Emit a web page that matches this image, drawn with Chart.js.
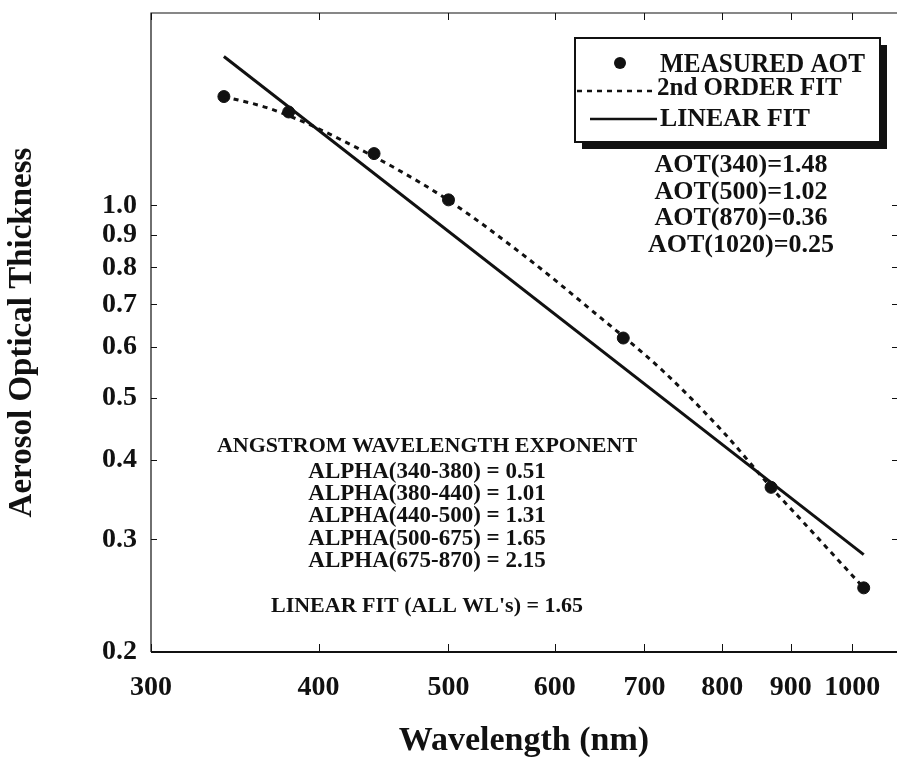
<!DOCTYPE html>
<html>
<head>
<meta charset="utf-8">
<title>Aerosol Optical Thickness</title>
<script src="https://cdn.jsdelivr.net/npm/chart.js@4.4.1/dist/chart.umd.min.js"></script>
<style>
    html, body { margin: 0; padding: 0; background: #fff; overflow: hidden; }
    #wrap { position: relative; width: 897px; height: 762px; }
    #wrap canvas { display: block; }
</style>
</head>
<body>
<div id="wrap"><canvas id="chart-aot"></canvas></div>
<script>
// Axis ticks (log-log plot)
const xTickValues = [300, 400, 500, 600, 700, 800, 900, 1000];
const yTickValues = [0.2, 0.3, 0.4, 0.5, 0.6, 0.7, 0.8, 0.9, 1.0];

// Measured AOT at the sun photometer channels
const measuredWl = [340, 380, 440, 500, 675, 870, 1020];
const measuredAot = [1.48, 1.40, 1.205, 1.02, 0.62, 0.362, 0.252];

// 2nd order fit
const fit2Wl = [340, 366, 391, 415, 455, 500, 572, 634, 723, 802, 870, 925, 1020];
const fit2Aot = [1.48, 1.422, 1.347, 1.269, 1.147, 1.018, 0.828, 0.695, 0.550, 0.441, 0.362, 0.315, 0.252];

// Linear fit (straight line in log-log space)
const linearWl = [340, 1020];
const linearAot = [1.71, 0.284];

const legendLabels = ['MEASURED AOT', '2nd ORDER FIT', 'LINEAR FIT'];
const aotLines = ['AOT(340)=1.48', 'AOT(500)=1.02', 'AOT(870)=0.36', 'AOT(1020)=0.25'];
const alphaTitle = 'ANGSTROM WAVELENGTH EXPONENT';
const alphaLines = [
    'ALPHA(340-380) = 0.51',
    'ALPHA(380-440) = 1.01',
    'ALPHA(440-500) = 1.31',
    'ALPHA(500-675) = 1.65',
    'ALPHA(675-870) = 2.15'
];
const linearFitNote = "LINEAR FIT (ALL WL's) = 1.65";

const INK = '#111';
const SERIF = '"Liberation Serif", "Times New Roman", serif';

function toPoints(xs, ys) {
    return xs.map((x, i) => ({ x: x, y: ys[i] }));
}

function drawText(ctx, text, x, y, size, align, maxWidth) {
    ctx.font = 'bold ' + size + 'px ' + SERIF;
    ctx.textAlign = align;
    ctx.textBaseline = 'alphabetic';
    if (maxWidth) ctx.fillText(text, x, y, maxWidth);
    else ctx.fillText(text, x, y);
}

// Frame with inward ticks, legend box and text notes
const framePlugin = {
    id: 'frame',
    afterDraw(chart) {
        const { ctx, chartArea: a, scales: { x, y } } = chart;
        const ds = chart.data.datasets;
        ctx.save();
        ctx.strokeStyle = INK;
        ctx.fillStyle = INK;

        // axes box (right side falls off the page)
        ctx.lineWidth = 1.2;
        ctx.beginPath();
        ctx.moveTo(a.right, a.top);
        ctx.lineTo(a.left, a.top);
        ctx.lineTo(a.left, a.bottom);
        ctx.stroke();
        ctx.lineWidth = 2;
        ctx.beginPath();
        ctx.moveTo(a.left, a.bottom);
        ctx.lineTo(a.right, a.bottom);
        ctx.stroke();

        ctx.lineWidth = 1;
        ctx.beginPath();
        for (const v of xTickValues) {
            const px = Math.round(x.getPixelForValue(v)) + 0.5;
            ctx.moveTo(px, a.bottom);
            ctx.lineTo(px, a.bottom - 8);
            ctx.moveTo(px, a.top);
            ctx.lineTo(px, a.top + 7);
        }
        for (const v of yTickValues) {
            const py = Math.round(y.getPixelForValue(v)) + 0.5;
            ctx.moveTo(a.left, py);
            ctx.lineTo(a.left + 6, py);
            ctx.moveTo(a.right, py);
            ctx.lineTo(a.right - 5, py);
        }
        ctx.stroke();

        // legend box with drop shadow
        const bx = 575, by = 38, bw = 305, bh = 104;
        ctx.fillRect(bx + 7, by + 7, bw, bh);
        ctx.fillStyle = '#fff';
        ctx.fillRect(bx, by, bw, bh);
        ctx.lineWidth = 2;
        ctx.strokeRect(bx, by, bw, bh);
        ctx.fillStyle = INK;

        ctx.beginPath();
        ctx.arc(620, 63, ds[2].pointRadius, 0, Math.PI * 2);
        ctx.fill();
        drawText(ctx, legendLabels[0], 660, 72, 27, 'left', 205);

        ctx.lineWidth = 2.5;
        ctx.setLineDash(ds[0].borderDash);
        ctx.beginPath();
        ctx.moveTo(577, 91);
        ctx.lineTo(655, 91);
        ctx.stroke();
        ctx.setLineDash([]);
        drawText(ctx, legendLabels[1], 657, 95, 25, 'left', 190);

        ctx.lineWidth = 2.5;
        ctx.beginPath();
        ctx.moveTo(590, 119);
        ctx.lineTo(657, 119);
        ctx.stroke();
        drawText(ctx, legendLabels[2], 660, 126, 26, 'left', 150);

        // AOT values
        aotLines.forEach((t, i) => drawText(ctx, t, 741, 172 + i * 26.7, 26, 'center'));

        // Angstrom exponents
        drawText(ctx, alphaTitle, 427, 452, 22, 'center', 425);
        alphaLines.forEach((t, i) => drawText(ctx, t, 427, 478 + i * 22.2, 23, 'center'));
        drawText(ctx, linearFitNote, 427, 612, 22, 'center', 315);

        ctx.restore();
    }
};

new Chart(document.getElementById('chart-aot').getContext('2d'), {
    type: 'scatter',
    data: {
        datasets: [
            {
                label: legendLabels[1],
                type: 'line',
                data: toPoints(fit2Wl, fit2Aot),
                borderColor: INK,
                borderWidth: 3,
                borderDash: [5, 5],
                pointRadius: 0,
                cubicInterpolationMode: 'monotone',
                fill: false
            },
            {
                label: legendLabels[2],
                type: 'line',
                data: toPoints(linearWl, linearAot),
                borderColor: INK,
                borderWidth: 3,
                pointRadius: 0,
                fill: false
            },
            {
                label: legendLabels[0],
                data: toPoints(measuredWl, measuredAot),
                backgroundColor: INK,
                borderColor: INK,
                pointRadius: 6,
                showLine: false
            }
        ]
    },
    options: {
        responsive: true,
        maintainAspectRatio: false,
        animation: false,
        layout: { autoPadding: false, padding: { top: 13, right: 0, bottom: 0, left: 0 } },
        plugins: {
            legend: { display: false },
            tooltip: { enabled: false }
        },
        scales: {
            x: {
                type: 'logarithmic',
                min: 300,
                max: 1080,
                afterBuildTicks: (scale) => { scale.ticks = xTickValues.map(v => ({ value: v })); },
                afterFit: (scale) => { scale.height = 110; scale.paddingLeft = 0; scale.paddingRight = 0; },
                ticks: {
                    color: INK,
                    padding: 19,
                    autoSkip: false,
                    maxRotation: 0,
                    font: { family: SERIF, size: 28, weight: 'bold' },
                    callback: (v) => String(v)
                },
                grid: { display: false, drawTicks: false },
                border: { display: false },
                title: {
                    display: true,
                    text: 'Wavelength (nm)',
                    color: INK,
                    padding: { top: 0, bottom: 0 },
                    font: { family: SERIF, size: 34, weight: 'bold' }
                }
            },
            y: {
                type: 'logarithmic',
                min: 0.2,
                max: 2.0,
                afterBuildTicks: (scale) => { scale.ticks = yTickValues.map(v => ({ value: v })); },
                afterFit: (scale) => { scale.width = 151; scale.paddingTop = 0; scale.paddingBottom = 0; },
                ticks: {
                    color: INK,
                    padding: 14,
                    autoSkip: false,
                    font: { family: SERIF, size: 28, weight: 'bold' },
                    callback: (v) => Number(v).toFixed(1)
                },
                grid: { display: false, drawTicks: false },
                border: { display: false },
                title: {
                    display: true,
                    text: 'Aerosol Optical Thickness',
                    color: INK,
                    padding: { top: 3, bottom: 0 },
                    font: { family: SERIF, size: 33, weight: 'bold' }
                }
            }
        }
    },
    plugins: [framePlugin]
});
</script>
</body>
</html>
